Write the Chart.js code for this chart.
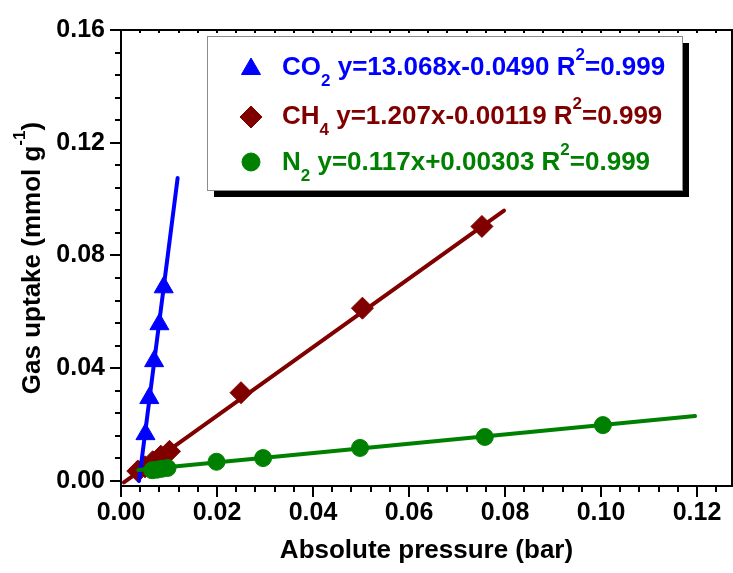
<!DOCTYPE html>
<html>
<head>
<meta charset="utf-8">
<script src="https://cdn.jsdelivr.net/npm/chart.js@4.4.1/dist/chart.umd.min.js"></script>
<style>
  html, body { margin: 0; padding: 0; background: #fff; overflow: hidden; }
  #wrap { width: 733px; height: 573px; }
  canvas { display: block; }
</style>
</head>
<body>
<div id="wrap"><canvas id="uptake-chart" width="733" height="573"></canvas></div>
<script>
// measured uptake points, pressure in bar, uptake in mmol/g
const co2X = [0.0051, 0.0059, 0.0069, 0.0080, 0.0089];
const co2Y = [0.0166, 0.0294, 0.0425, 0.0556, 0.0687];
const ch4X = [0.0035, 0.0050, 0.0066, 0.0083, 0.0101, 0.0250, 0.0503, 0.0752];
const ch4Y = [0.0035, 0.0050, 0.0068, 0.0088, 0.0105, 0.0313, 0.0613, 0.0903];
const n2X = [0.0065, 0.0075, 0.0085, 0.0097, 0.0199, 0.0296, 0.0498, 0.0758, 0.1004];
const n2Y = [0.0038, 0.0040, 0.0043, 0.0046, 0.0068, 0.0081, 0.0117, 0.0156, 0.0198];

// ends of the linear fits as drawn
const co2FitX = [0.00375, 0.0118];
const co2FitY = [0.0, 0.1075];
const ch4FitX = [0.0006, 0.0798];
const ch4FitY = [-0.0005, 0.0959];
const n2FitX = [0.0036, 0.1196];
const n2FitY = [0.0039, 0.0230];

const xTickVals = [0, 0.02, 0.04, 0.06, 0.08, 0.10, 0.12];
const yTickVals = [0, 0.04, 0.08, 0.12, 0.16];

const BLUE = '#0000ff', WINE = '#800000', GREEN = '#008000';
const FONT = '"Liberation Sans", Arial, sans-serif';

const legendRows = [
  { color: BLUE, style: 'triangle', radius: 11, parts: [['CO', ''], ['2', 'sub'], [' y=13.068x-0.0490 R', ''], ['2', 'sup'], ['=0.999', '']] },
  { color: WINE, style: 'rectRot', radius: 11, parts: [['CH', ''], ['4', 'sub'], [' y=1.207x-0.00119 R', ''], ['2', 'sup'], ['=0.999', '']] },
  { color: GREEN, style: 'circle', radius: 9, parts: [['N', ''], ['2', 'sub'], [' y=0.117x+0.00303 R', ''], ['2', 'sup'], ['=0.999', '']] },
];

const pts = (xs, ys) => xs.map((x, i) => ({ x, y: ys[i] }));
const zeroPad = s => { s.paddingLeft = 0; s.paddingRight = 0; s.paddingTop = 0; s.paddingBottom = 0; };

function richWidth(ctx, parts, size) {
  let w = 0;
  parts.forEach(([t, kind]) => {
    ctx.font = `bold ${kind ? Math.round(size * 0.64) : size}px ${FONT}`;
    w += ctx.measureText(t).width;
  });
  return w;
}

function drawRich(ctx, parts, x, y, color, size) {
  ctx.fillStyle = color;
  ctx.textAlign = 'left';
  ctx.textBaseline = 'alphabetic';
  let cx = x;
  parts.forEach(([t, kind]) => {
    ctx.font = `bold ${kind ? Math.round(size * 0.64) : size}px ${FONT}`;
    const dy = kind === 'sub' ? size * 0.44 : kind === 'sup' ? -size * 0.58 : 0;
    ctx.fillText(t, cx, y + dy);
    cx += ctx.measureText(t).width;
  });
}

const frameAndLegend = {
  id: 'frameAndLegend',
  afterDatasetsDraw(chart) {
    const { ctx, chartArea: a, scales: { x, y } } = chart;
    ctx.save();
    ctx.strokeStyle = '#000';
    ctx.lineWidth = 2;
    ctx.strokeRect(a.left, a.top, a.right - a.left, a.bottom - a.top);

    // minor/major ticks
    ctx.beginPath();
    for (let i = 0; i * 0.004 <= x.max + 1e-9; i++) {
      const px = Math.round(x.getPixelForValue(i * 0.004));
      const len = i % 5 === 0 ? 11 : 6;
      ctx.moveTo(px, a.bottom); ctx.lineTo(px, a.bottom + len);
      ctx.moveTo(px, a.top); ctx.lineTo(px, a.top + 3);
    }
    for (let i = 0; i * 0.008 <= y.max + 1e-9; i++) {
      const py = Math.round(y.getPixelForValue(i * 0.008));
      const len = i % 5 === 0 ? 11 : 6;
      ctx.moveTo(a.left, py); ctx.lineTo(a.left - len, py);
    }
    ctx.stroke();

    // legend box with drop shadow
    const bx = 207, by = 36, bw = 475, bh = 154;
    ctx.fillStyle = '#000';
    ctx.fillRect(bx + 7, by + 7, bw, bh);
    ctx.fillStyle = '#fff';
    ctx.fillRect(bx, by, bw, bh);
    ctx.strokeStyle = '#8c8c8c';
    ctx.lineWidth = 1;
    ctx.strokeRect(bx + 0.5, by + 0.5, bw, bh);
    const rowY = [75, 124, 170];
    const markY = [69, 117, 162];
    legendRows.forEach((r, i) => {
      ctx.fillStyle = r.color;
      ctx.strokeStyle = r.color;
      Chart.helpers.drawPoint(ctx, { pointStyle: r.style, radius: r.radius, borderWidth: 1, rotation: 0 }, 251, markY[i]);
      drawRich(ctx, r.parts, 282, rowY[i], r.color, 26);
    });

    // axis titles
    const xt = [['Absolute pressure (bar)', '']];
    drawRich(ctx, xt, (a.left + a.right) / 2 - richWidth(ctx, xt, 26) / 2, 558, '#000', 26);
    const yt = [['Gas uptake (mmol g', ''], ['-1', 'sup'], [')', '']];
    ctx.translate(40, (a.top + a.bottom) / 2);
    ctx.rotate(-Math.PI / 2);
    drawRich(ctx, yt, -richWidth(ctx, yt, 26) / 2, 0, '#000', 26);
    ctx.restore();
  }
};

const tickFont = { family: FONT, weight: 'bold', size: 25 };

new Chart(document.getElementById('uptake-chart'), {
  type: 'scatter',
  data: {
    datasets: [
      { label: 'N2', data: pts(n2X, n2Y), pointStyle: 'circle', pointRadius: 8.5, backgroundColor: GREEN, borderColor: GREEN, borderWidth: 1, order: 1 },
      { label: 'N2 fit', data: pts(n2FitX, n2FitY), showLine: true, pointRadius: 0, borderColor: GREEN, borderWidth: 4, borderCapStyle: 'round', order: 2 },
      { label: 'CO2', data: pts(co2X, co2Y), pointStyle: 'triangle', pointRadius: 11, backgroundColor: BLUE, borderColor: BLUE, borderWidth: 1, order: 3 },
      { label: 'CO2 fit', data: pts(co2FitX, co2FitY), showLine: true, pointRadius: 0, borderColor: BLUE, borderWidth: 4, borderCapStyle: 'round', order: 4 },
      { label: 'CH4', data: pts(ch4X, ch4Y), pointStyle: 'rectRot', pointRadius: 11, backgroundColor: WINE, borderColor: WINE, borderWidth: 1, order: 5 },
      { label: 'CH4 fit', data: pts(ch4FitX, ch4FitY), showLine: true, pointRadius: 0, borderColor: WINE, borderWidth: 4, borderCapStyle: 'round', order: 6 },
    ],
  },
  options: {
    responsive: false,
    animation: false,
    events: [],
    layout: { autoPadding: false, padding: { left: 0, right: 1, top: 30, bottom: 0 } },
    plugins: { legend: { display: false }, tooltip: { enabled: false } },
    scales: {
      x: {
        type: 'linear', min: 0, max: 0.1273,
        afterBuildTicks: s => { s.ticks = xTickVals.map(v => ({ value: v })); },
        afterFit: s => { s.height = 87; zeroPad(s); },
        grid: { display: false, drawTicks: false },
        border: { display: false },
        ticks: { font: tickFont, color: '#000', padding: 12, maxRotation: 0, autoSkip: false, callback: v => v.toFixed(2) },
      },
      y: {
        type: 'linear', min: -0.0018, max: 0.16,
        afterBuildTicks: s => { s.ticks = yTickVals.map(v => ({ value: v })); },
        afterFit: s => { s.width = 121; zeroPad(s); },
        grid: { display: false, drawTicks: false },
        border: { display: false },
        ticks: { font: tickFont, color: '#000', padding: 16, autoSkip: false, callback: v => v.toFixed(2) },
      },
    },
  },
  plugins: [frameAndLegend],
});
</script>
</body>
</html>
